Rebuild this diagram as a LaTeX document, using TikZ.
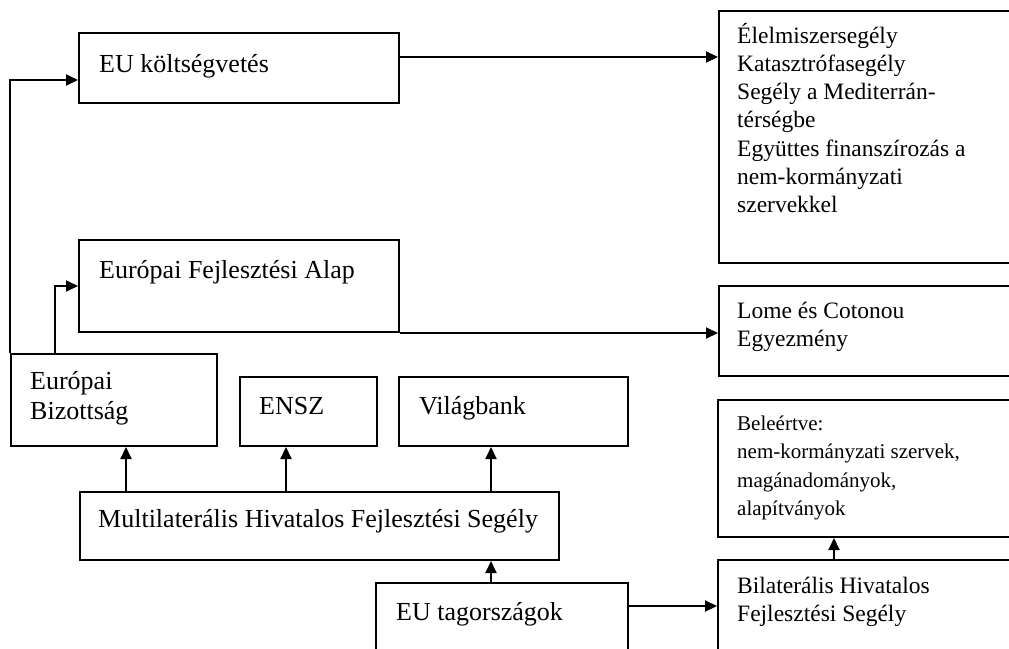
\documentclass[tikz,border=0pt]{standalone}
\usepackage{fontspec}
\setmainfont{Liberation Serif}
\usetikzlibrary{arrows.meta}
\newcommand{\bigtext}{\fontsize{26}{30}\selectfont}
\newcommand{\midtext}{\fontsize{23.5}{28.3}\selectfont}
\newcommand{\smalltext}{\fontsize{21}{28.5}\selectfont}
\newcommand{\boxlines}[1]{\begin{tabular}[t]{@{}l@{}}#1\end{tabular}}
\tikzset{
  box/.style={draw, line width=2pt, inner sep=0pt, anchor=north west},
  txt/.style={anchor=base west, inner sep=0pt},
  arr/.style={line width=2pt, -{Triangle[length=12pt, width=11pt]}}
}

\begin{document}
\begin{tikzpicture}[x=1pt, y=-1pt]
  \useasboundingbox (0, 0) rectangle (1009, 648);
  \clip (0, 0) rectangle (1009, 648);

  % left column
  \node[box, minimum width=320pt, minimum height=70pt] (budget) at (78, 32) {};
  \node[txt, font=\bigtext] (budget-t) at ([xshift=21pt, yshift=-40pt]budget.north west) { EU költségvetés };

  \node[box, minimum width=320pt, minimum height=92pt] (edf) at (78, 239) {};
  \node[txt, font=\bigtext] (edf-t) at ([xshift=21pt, yshift=-39pt]edf.north west) { Európai Fejlesztési Alap };

  \node[box, minimum width=206pt, minimum height=92pt] (commission) at (10, 353) {};
  \node[txt, font=\bigtext] (commission-t) at ([xshift=20pt, yshift=-36pt]commission.north west) { \boxlines{Európai \\ Bizottság} };

  \node[box, minimum width=137pt, minimum height=69pt] (un) at (239, 376) {};
  \node[txt, font=\bigtext] (un-t) at ([xshift=20pt, yshift=-38pt]un.north west) { ENSZ };

  \node[box, minimum width=229pt, minimum height=69pt] (wb) at (398, 376) {};
  \node[txt, font=\bigtext] (wb-t) at ([xshift=21pt, yshift=-38pt]wb.north west) { Világbank };

  \node[box, minimum width=479pt, minimum height=68pt] (multi) at (79, 491) {};
  \node[txt, font=\bigtext] (multi-t) at ([xshift=19pt, yshift=-36pt]multi.north west) { Multilaterális Hivatalos Fejlesztési Segély };

  \node[box, minimum width=252pt, minimum height=80pt] (members) at (375, 582) {};
  \node[txt, font=\bigtext] (members-t) at ([xshift=21pt, yshift=-38pt]members.north west) { EU tagországok };

  % right column
  \node[box, minimum width=300pt, minimum height=252pt] (aid) at (718, 10) {};
  \node[txt, font=\midtext] (aid-t) at ([xshift=19pt, yshift=-33pt]aid.north west)
    { \boxlines{Élelmiszersegély \\ Katasztrófasegély \\ Segély a Mediterrán- \\ térségbe \\
      Együttes finanszírozás a \\ nem-kormányzati \\ szervekkel} };

  \node[box, minimum width=300pt, minimum height=90pt] (lome) at (718, 285) {};
  \node[txt, font=\midtext] (lome-t) at ([xshift=19pt, yshift=-33pt]lome.north west) { \boxlines{Lome és Cotonou \\ Egyezmény} };

  \node[box, minimum width=300pt, minimum height=137pt] (incl) at (717, 399) {};
  \node[txt, font=\smalltext] (incl-t) at ([xshift=20pt, yshift=-31pt]incl.north west)
    { \boxlines{Beleértve: \\ nem-kormányzati szervek, \\ magánadományok, \\ alapítványok} };

  \node[box, minimum width=300pt, minimum height=92pt] (bilat) at (717, 559) {};
  \node[txt, font=\midtext] (bilat-t) at ([xshift=20pt, yshift=-34pt]bilat.north west) { \boxlines{Bilaterális Hivatalos \\ Fejlesztési Segély} };

  % connectors
  \coordinate (budget-in) at ([yshift=-12pt]budget.west);
  \coordinate (budget-out) at ([yshift=11pt]budget.east);
  \coordinate (edf-up) at ([xshift=45pt]commission.north west);
  \coordinate (commission-in) at ([xshift=12pt]commission.south);
  \coordinate (un-in) at ([xshift=-22.5pt]un.south);
  \coordinate (wb-in) at ([xshift=-22.5pt]wb.south);
  \coordinate (incl-in) at ([xshift=-34pt]incl.south);

  \draw[arr] (commission.north west) |- (budget-in);
  \draw[arr] (edf-up) |- (edf.west);
  \draw[arr] (budget-out) -- (budget-out -| aid.west);
  \draw[arr] (edf.south east) -- (edf.south east -| lome.west);
  \draw[arr] (multi.north -| commission-in) -- (commission-in);
  \draw[arr] (multi.north -| un-in) -- (un-in);
  \draw[arr] (multi.north -| wb-in) -- (wb-in);
  \draw[arr] (members.north -| wb-in) -- (multi.south -| wb-in);
  \draw[arr] (members.east |- bilat.west) -- (bilat.west);
  \draw[arr] (bilat.north -| incl-in) -- (incl-in);
\end{tikzpicture}
\end{document}
